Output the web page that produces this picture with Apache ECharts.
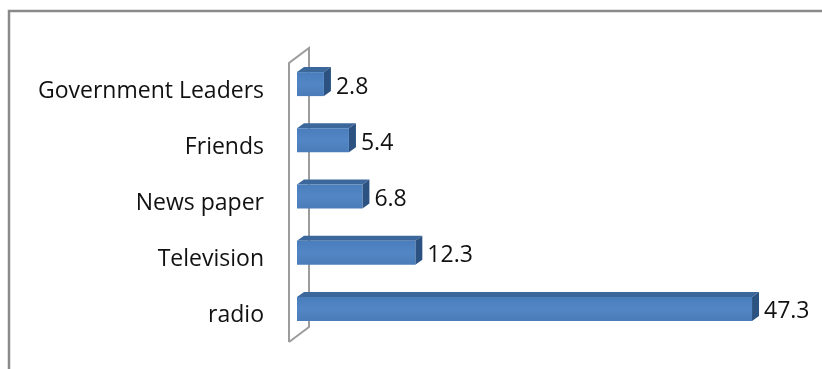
<!DOCTYPE html>
<html>
<head>
<meta charset="utf-8">
<script src="https://cdn.jsdelivr.net/npm/echarts@6/dist/echarts.min.js"></script>
<style>
html,body{margin:0;padding:0;background:#fff;}
#chart{width:822px;height:369px;}
</style>
</head>
<body>
<div id="chart"></div>
<script>
var categories = ['radio', 'Television', 'News paper', 'Friends', 'Government Leaders'];
var values = [47.3, 12.3, 6.8, 5.4, 2.8];
var valueLabels = ['47.3', '12.3', '6.8', '5.4', '2.8'];

var FONT = '"Open Sans", sans-serif';
var chart = echarts.init(document.getElementById('chart'));

var GRID_LEFT = 297, GRID_TOP = 63, GRID_H = 281;
var DX = 7, DY = -5; // bar depth
var WDX = 20, WDY = -15; // wall depth

function renderItem(params, api) {
  var idx = params.dataIndex;
  var v = api.value(0);
  var c = api.coord([0, idx]);
  var e = api.coord([v, idx]);
  var x0 = c[0], x1 = e[0];
  var yc = c[1];
  var top = yc - 19, bot = yc + 5;
  var children = [];
  if (idx === 0) {
    var cs = params.coordSys;
    var fx = cs.x - 8, ft = cs.y, fb = cs.y + cs.height - 2;
    children.push({
      type: 'polyline',
      shape: { points: [[fx, fb], [fx, ft], [fx + WDX, ft + WDY], [fx + WDX, fb + WDY], [fx, fb]] },
      style: { stroke: '#9c9c9c', lineWidth: 2, fill: null },
      z2: 0
    });
  }
  children.push({
    type: 'polygon',
    shape: { points: [[x0, top], [x1, top], [x1 + DX, top + DY], [x0 + DX, top + DY]] },
    style: { fill: '#3b679b' }, z2: 2
  });
  children.push({
    type: 'polygon',
    shape: { points: [[x1, top], [x1 + DX, top + DY], [x1 + DX, bot + DY], [x1, bot]] },
    style: { fill: '#2c5282' }, z2: 2
  });
  children.push({
    type: 'rect',
    shape: { x: x0, y: top, width: x1 - x0, height: bot - top },
    style: {
      fill: new echarts.graphic.LinearGradient(0, 0, 0, 1, [
        { offset: 0, color: '#4a7dbb' }, { offset: 0.5, color: '#5286c4' }, { offset: 1, color: '#4a7cb9' }
      ])
    }, z2: 3
  });
  children.push({
    type: 'text',
    style: {
      text: valueLabels[idx], x: x1 + DX + 5, y: yc - 4,
      verticalAlign: 'middle', align: 'left',
      font: '23px ' + FONT, fill: '#111'
    }, z2: 4
  });
  return { type: 'group', children: children };
}

chart.setOption({
  animation: false,
  backgroundColor: '#fff',
  graphic: [{
    type: 'polyline',
    shape: { points: [[9, 369], [9, 11], [822, 11]] },
    style: { stroke: '#8a8a8a', lineWidth: 2.5, fill: null }
  }],
  grid: { left: GRID_LEFT, top: GRID_TOP, height: GRID_H, width: 481 },
  xAxis: { type: 'value', min: 0, max: 50, show: false },
  yAxis: {
    type: 'category', data: categories,
    axisLine: { show: false }, axisTick: { show: false }, splitLine: { show: false },
    axisLabel: { fontFamily: FONT, fontSize: 23, color: '#111', margin: 33 }
  },
  series: [{
    type: 'custom',
    renderItem: renderItem,
    data: values.map(function (v) { return [v]; }),
    encode: { x: 0 },
    clip: false
  }]
});
</script>
</body>
</html>
